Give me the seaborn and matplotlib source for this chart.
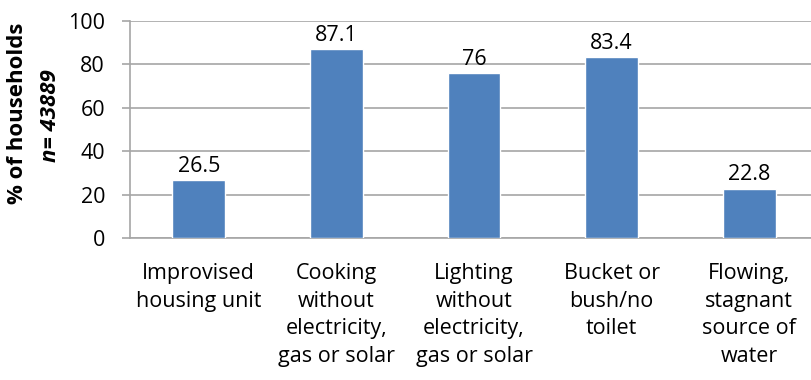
import matplotlib
matplotlib.use("Agg")
import matplotlib.pyplot as plt
import seaborn as sns
import pandas as pd

categories = [
    "Improvised\nhousing unit",
    "Cooking\nwithout\nelectricity,\ngas or solar",
    "Lighting\nwithout\nelectricity,\ngas or solar",
    "Bucket or\nbush/no\ntoilet",
    "Flowing,\nstagnant\nsource of\nwater",
]
values = [26.5, 87.1, 76, 83.4, 22.8]
value_labels = ["26.5", "87.1", "76", "83.4", "22.8"]
yticks = [0, 20, 40, 60, 80, 100]

sns.set_theme(style="white")
plt.rcParams["font.family"] = ["Open Sans", "DejaVu Sans"]

W, H = 811, 380
fig = plt.figure(figsize=(W / 100, H / 100), dpi=100)
left, right, top, bottom = 130, 818, 21, 238
ax = fig.add_axes([left / W, (H - bottom) / H, (right - left) / W, (bottom - top) / H])

df = pd.DataFrame({"cat": categories, "val": values})
sns.barplot(data=df, x="cat", y="val", color="#4F81BD", saturation=1,
            width=0.385, ax=ax, zorder=3)

grid_c = "#A6A6A6"
ax.set_ylim(0, 100)
ax.set_xlim(-0.5, 4.5)
ax.set_yticks(yticks)
ax.yaxis.grid(True, color=grid_c, linewidth=1.2, zorder=0)
ax.set_axisbelow(True)
for s in ["top", "right"]:
    ax.spines[s].set_visible(False)
for s in ["left", "bottom"]:
    ax.spines[s].set_color(grid_c)
    ax.spines[s].set_linewidth(1.2)

ax.tick_params(axis="y", direction="out", length=6, width=1.2, color=grid_c,
               labelsize=15.5, labelcolor="#000000", pad=12, left=True)
ax.tick_params(axis="x", length=0, labelsize=15.5, labelcolor="#000000", pad=18)
for t in ax.get_xticklabels():
    t.set_linespacing(1.42)

ax.set_xlabel("")
ax.set_ylabel("")

for i, (v, lab) in enumerate(zip(values, value_labels)):
    ax.text(i, v + 1.5, lab, ha="center", va="bottom", fontsize=15.5, color="#000000")

fig.text(18 / W, 1 - 113 / H, "% of households", rotation=90, ha="center",
         va="center", fontsize=16, fontweight="bold", color="#000000")
fig.text(50 / W, 1 - 116 / H, "n= 43889", rotation=90, ha="center",
         va="center", fontsize=16, fontweight="bold", fontstyle="italic", color="#000000")

fig.savefig("out.png", dpi=100)
